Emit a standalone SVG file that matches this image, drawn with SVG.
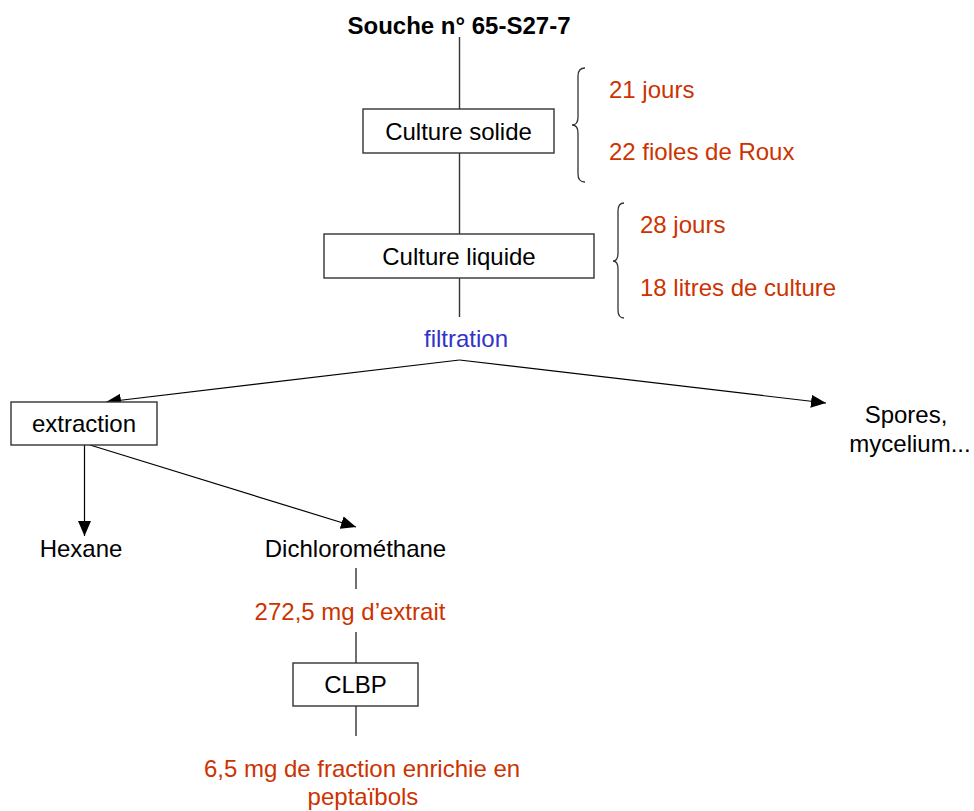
<svg xmlns="http://www.w3.org/2000/svg" width="974" height="811" viewBox="0 0 974 811">
<defs>
<style>
text{font-family:"Liberation Sans",Arial,sans-serif;font-size:24px;fill:#000}
.t{font-weight:bold}
.r{fill:#cc3300}
.b{fill:#3333cc}
.m{text-anchor:middle}
.box{fill:#fff;stroke:#333;stroke-width:1.4}
.ln{stroke:#333;stroke-width:1.4;fill:none}
.ar{stroke:#000;stroke-width:1.2;fill:none}
.br{stroke:#333;stroke-width:1.3;fill:none}
</style>
<marker id="ah" markerUnits="userSpaceOnUse" markerWidth="16" markerHeight="14" refX="15" refY="6.5" orient="auto">
<path d="M0,0 L15,6.5 L0,13 z" fill="#000"/>
</marker>
</defs>
<rect width="974" height="811" fill="#fff"/>
<g id="connectors">
<line class="ln" x1="459.5" y1="37" x2="459.5" y2="109"/>
<line class="ln" x1="459.5" y1="153" x2="459.5" y2="234"/>
<line class="ln" x1="459.5" y1="278" x2="459.5" y2="317"/>
<polyline class="ar" points="459.5,360 106,402" marker-end="url(#ah)"/>
<polyline class="ar" points="459.5,360 826,403" marker-end="url(#ah)"/>
<line class="ar" x1="84.5" y1="445" x2="84.5" y2="536" marker-end="url(#ah)"/>
<line class="ar" x1="90" y1="445" x2="356" y2="527" marker-end="url(#ah)"/>
<line class="ln" x1="356" y1="568" x2="356" y2="589"/>
<line class="ln" x1="356" y1="632" x2="356" y2="663"/>
<line class="ln" x1="356" y1="706" x2="356" y2="736"/>
</g>
<g id="title"><text class="t m" x="459" y="34">Souche n° 65-S27-7</text></g>
<g id="culture-solide">
<rect class="box" x="363" y="109" width="191" height="44"/>
<text class="m" x="458.5" y="140">Culture solide</text>
</g>
<g id="brace-solide">
<path class="br" d="M585,68 Q578,68 578,76 L578,117 Q578,125 572,125 Q578,125 578,133 L578,174 Q578,182 585,182"/>
<text class="r" x="609" y="98">21 jours</text>
<text class="r" x="609" y="160">22 fioles de Roux</text>
</g>
<g id="culture-liquide">
<rect class="box" x="324" y="234" width="270" height="44"/>
<text class="m" x="459" y="265">Culture liquide</text>
</g>
<g id="brace-liquide">
<path class="br" d="M624,203 Q618,203 618,211 L618,253 Q618,261 613,261 Q618,261 618,269 L618,310 Q618,318 624,318"/>
<text class="r" x="640" y="233">28 jours</text>
<text class="r" x="640" y="296">18 litres de culture</text>
</g>
<g id="filtration"><text class="b m" x="466" y="347">filtration</text></g>
<g id="extraction">
<rect class="box" x="11" y="402" width="146" height="43"/>
<text class="m" x="84" y="432">extraction</text>
</g>
<g id="spores">
<text class="m" x="906" y="423">Spores,</text>
<text class="m" x="910" y="452">mycelium...</text>
</g>
<g id="hexane"><text class="m" x="81" y="557">Hexane</text></g>
<g id="dichloromethane"><text class="m" x="355.5" y="557">Dichlorométhane</text></g>
<g id="extrait"><text class="r m" x="350" y="620">272,5 mg d’extrait</text></g>
<g id="clbp">
<rect class="box" x="293" y="663" width="125" height="43"/>
<text class="m" x="355.5" y="693">CLBP</text>
</g>
<g id="fraction">
<text class="r m" x="362" y="777">6,5 mg de fraction enrichie en</text>
<text class="r m" x="363" y="805">peptaïbols</text>
</g>
</svg>
